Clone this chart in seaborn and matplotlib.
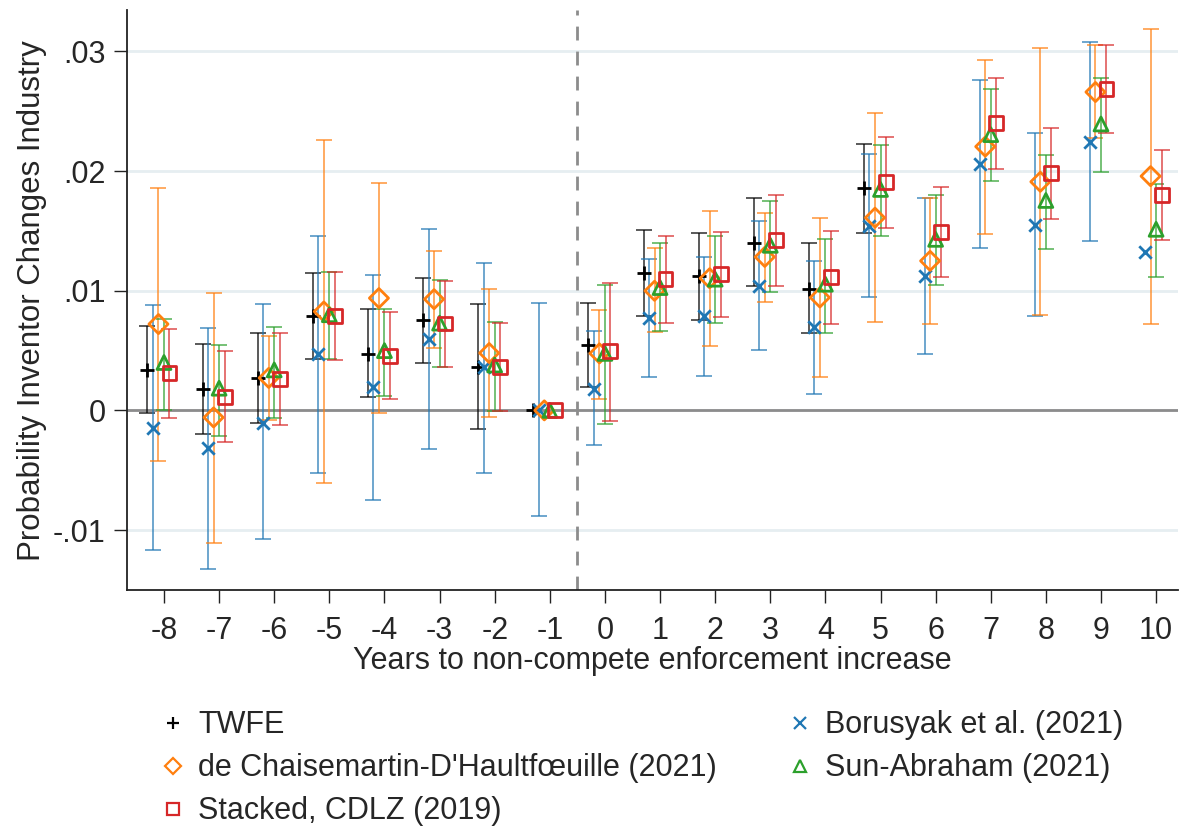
import numpy as np
import matplotlib
matplotlib.use("Agg")
import matplotlib.pyplot as plt
import seaborn as sns
from matplotlib.lines import Line2D
from matplotlib import font_manager

nan = np.nan
years = list(range(-8, 11))
tick_labels = [str(y) for y in years]

# TWFE (no estimates for years 6..10)
twfe_est = [0.00340, 0.00179, 0.00268, 0.00790, 0.00471, 0.00754, 0.00365, 0.0, 0.00549, 0.01146, 0.01124, 0.01401, 0.01018, 0.01854, nan, nan, nan, nan, nan]
twfe_lo = [-0.00024, -0.00201, -0.00107, 0.00429, 0.00110, 0.00396, -0.00157, nan, 0.00193, 0.00785, 0.00757, 0.01038, 0.00649, 0.01485, nan, nan, nan, nan, nan]
twfe_hi = [0.00707, 0.00554, 0.00646, 0.01151, 0.00843, 0.01110, 0.00888, nan, 0.00901, 0.01507, 0.01479, 0.01771, 0.01401, 0.02226, nan, nan, nan, nan, nan]

bor_est = [-0.00149, -0.00315, -0.00104, 0.00471, 0.00193, 0.00596, 0.00360, 0.0, 0.00179, 0.00771, 0.00785, 0.01040, 0.00693, 0.01540, 0.01124, 0.02060, 0.01549, 0.02243, 0.01326]
bor_lo = [-0.01168, -0.01326, -0.01079, -0.00521, -0.00746, -0.00326, -0.00524, -0.00885, -0.00293, 0.00282, 0.00290, 0.00501, 0.00138, 0.00949, 0.00474, 0.01354, 0.00785, 0.01418, nan]
bor_hi = [0.00879, 0.00688, 0.00885, 0.01457, 0.01132, 0.01513, 0.01235, 0.00893, 0.00660, 0.01265, 0.01282, 0.01582, 0.01249, 0.02143, 0.01771, 0.02763, 0.02318, 0.03074, nan]

dcdh_est = [0.00721, -0.00059, 0.00271, 0.00826, 0.00938, 0.00929, 0.00479, 0.0, 0.00476, 0.00999, 0.01104, 0.01282, 0.00943, 0.01610, 0.01249, 0.02204, 0.01910, 0.02660, 0.01957]
dcdh_lo = [-0.00421, -0.01107, -0.00079, -0.00604, -0.00021, 0.00524, -0.00057, nan, 0.00096, 0.00654, 0.00538, 0.00907, 0.00279, 0.00740, 0.00721, 0.01471, 0.00796, 0.02276, 0.00721]
dcdh_hi = [0.01854, 0.00979, 0.00624, 0.02260, 0.01899, 0.01332, 0.01013, nan, 0.00840, 0.01357, 0.01668, 0.01651, 0.01607, 0.02485, 0.01771, 0.02929, 0.03026, 0.03054, 0.03188]

sa_est = [0.00400, 0.00185, 0.00338, 0.00799, 0.00499, 0.00729, 0.00379, 0.0, 0.00476, 0.01026, 0.01096, 0.01379, 0.01054, 0.01846, 0.01429, 0.02304, 0.01754, 0.02393, 0.01513]
sa_lo = [0.00004, -0.00215, -0.00060, 0.00429, 0.00118, 0.00365, -0.00004, nan, -0.00110, 0.00663, 0.00732, 0.00985, 0.00649, 0.01457, 0.01049, 0.01913, 0.01346, 0.01993, 0.01118]
sa_hi = [0.00763, 0.00546, 0.00699, 0.01160, 0.00843, 0.01088, 0.00740, nan, 0.01049, 0.01396, 0.01454, 0.01749, 0.01432, 0.02221, 0.01799, 0.02685, 0.02132, 0.02776, 0.01893]

stk_est = [0.00310, 0.00110, 0.00263, 0.00785, 0.00457, 0.00726, 0.00365, 0.0, 0.00493, 0.01096, 0.01138, 0.01424, 0.01115, 0.01907, 0.01493, 0.02399, 0.01982, 0.02685, 0.01796]
stk_lo = [-0.00060, -0.00268, -0.00121, 0.00421, 0.00096, 0.00360, -0.00004, nan, -0.00085, 0.00732, 0.00776, 0.01043, 0.00721, 0.01521, 0.01118, 0.02018, 0.01596, 0.02318, 0.01421]
stk_hi = [0.00679, 0.00493, 0.00649, 0.01157, 0.00824, 0.01079, 0.00729, nan, 0.01065, 0.01457, 0.01493, 0.01801, 0.01501, 0.02288, 0.01868, 0.02776, 0.02363, 0.03054, 0.02174]

series = [
    ("TWFE", twfe_est, twfe_lo, twfe_hi, -0.3, "+", "black", False),
    ("Borusyak et al. (2021)", bor_est, bor_lo, bor_hi, -0.2, "x", "#1f77b4", False),
    ("de Chaisemartin-D'Haultfœuille (2021)", dcdh_est, dcdh_lo, dcdh_hi, -0.1, "D", "#ff7f0e", True),
    ("Sun-Abraham (2021)", sa_est, sa_lo, sa_hi, 0.0, "^", "#2ca02c", True),
    ("Stacked, CDLZ (2019)", stk_est, stk_lo, stk_hi, 0.1, "s", "#d62728", True),
]
msizes = {"+": 110, "x": 80, "D": 95, "^": 100, "s": 100}

sns.set_theme(style="white")
installed = {f.name for f in font_manager.fontManager.ttflist}
fam = ["Liberation Sans Narrow", "Liberation Sans", "DejaVu Sans"]
fam = [f for f in fam if f in installed] or ["DejaVu Sans"]
plt.rcParams["font.family"] = fam
FS = 22

fig = plt.figure(figsize=(11.83, 8.27), dpi=100)
ax = fig.add_axes([0.1074, 0.2860, 0.8885, 0.7020])

# grid lines
for yv in [-0.01, 0.0, 0.01, 0.02, 0.03]:
    ax.axhline(yv, color="#e6eef1", lw=2, zorder=0)
ax.axhline(0, color="#8c8c8c", lw=2, zorder=1)
ax.axvline(-0.5, color="#8c8c8c", lw=2, ls=(0, (5, 4)), zorder=1)

yrs = np.array(years, dtype=float)
for name, est, lo, hi, off, mk, col, hollow in series:
    est = np.array(est, dtype=float)
    lo = np.array(lo, dtype=float)
    hi = np.array(hi, dtype=float)
    xs = yrs + off
    ok = np.isfinite(lo) & np.isfinite(hi)
    ax.errorbar(xs[ok], est[ok], yerr=[est[ok] - lo[ok], hi[ok] - est[ok]], fmt="none",
                ecolor=col, elinewidth=1.3, capsize=5.5, capthick=1.3, alpha=0.7, zorder=2)
    okp = np.isfinite(est)
    sns.scatterplot(x=xs[okp], y=est[okp], marker=mk, s=msizes[mk], color=col, ax=ax, zorder=3)
    coll = ax.collections[-1]
    coll.set_edgecolor(col)
    coll.set_facecolor("none" if hollow else col)
    coll.set_linewidth(2.0)

ax.set_xlim(-8.67, 10.4)
ax.set_ylim(-0.01505, 0.03346)
ax.set_xticks(years)
ax.set_xticklabels(tick_labels)
ax.set_yticks([-0.01, 0.0, 0.01, 0.02, 0.03])
ax.set_yticklabels(["-.01", "0", ".01", ".02", ".03"])
ax.tick_params(axis="both", direction="out", length=9.5, width=1.0, color="#222222",
               labelsize=FS, pad=6, bottom=True, left=True)
ax.tick_params(axis="x", pad=9)
for s in ["top", "right"]:
    ax.spines[s].set_visible(False)
for s in ["left", "bottom"]:
    ax.spines[s].set_color("#222222")
    ax.spines[s].set_linewidth(1.3)
ax.grid(False)

ax.set_xlabel("Years to non-compete enforcement increase", fontsize=FS, labelpad=0)
ax.set_ylabel("Probability Inventor Changes Industry", fontsize=22.5, labelpad=4)

handles = []
labels = []
order = [0, 2, 4, 1, 3]
for i in order:
    name, est, lo, hi, off, mk, col, hollow = series[i]
    h = Line2D([], [], linestyle="none", marker=mk, markersize=8,
               markerfacecolor="none" if hollow else col, markeredgecolor=col, markeredgewidth=1.6)
    handles.append(h)
    labels.append(name)
fig.legend(handles, labels, ncol=2, loc="upper left", bbox_to_anchor=(0.1252, 0.156),
           frameon=False, fontsize=FS, handlelength=0.8, handletextpad=0.43,
           columnspacing=2.32, labelspacing=0.43, borderaxespad=0)

fig.savefig("out.png", dpi=100)
